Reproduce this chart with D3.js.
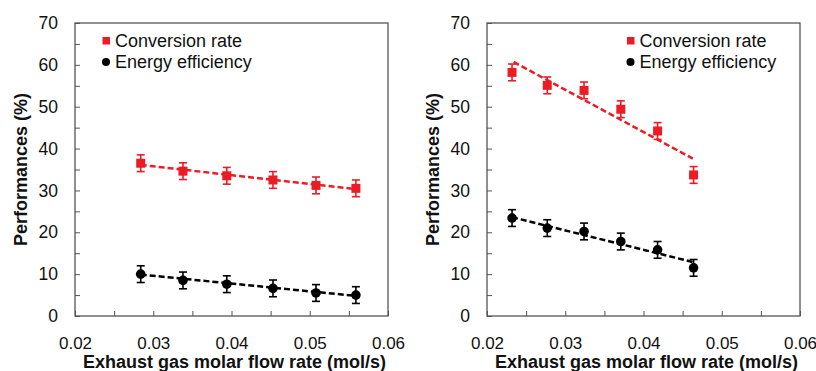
<!DOCTYPE html>
<html><head><meta charset="utf-8">
<script src="https://cdn.jsdelivr.net/npm/d3@7"></script>
<style>body{margin:0;background:#fff}svg{display:block}text{font-family:"Liberation Sans",Arial,sans-serif}</style>
</head><body>
<svg id="c" width="816" height="371"></svg>
<script>
// Data: left panel
const leftX = [0.0284, 0.0338, 0.0394, 0.0453, 0.0508, 0.0559];
const leftConv = [36.5, 34.6, 33.5, 32.5, 31.2, 30.5];
const leftEnergy = [10.0, 8.5, 7.6, 6.6, 5.5, 5.0];
const leftConvErr = [2, 2, 2, 2, 2, 2];
const leftEnergyErr = [2, 2, 2, 2, 2, 2];
const leftConvTrend = [[0.0284, 36.1], [0.0559, 30.3]];
const leftEnergyTrend = [[0.0284, 9.9], [0.0559, 4.8]];
// Data: right panel
const rightX = [0.0232, 0.0277, 0.0324, 0.0371, 0.0418, 0.0464];
const rightConv = [58.2, 55.1, 53.9, 49.4, 44.2, 33.7];
const rightEnergy = [23.4, 21.0, 20.2, 17.8, 15.8, 11.5];
const rightConvErr = [2, 2, 2, 2, 2, 2];
const rightEnergyErr = [2, 2, 2, 2, 2, 2];
const rightConvTrend = [[0.0234, 60.7], [0.0463, 37.6]];
const rightEnergyTrend = [[0.0232, 23.6], [0.0463, 12.9]];
// Axes
const xTickLabels = [0.02, 0.03, 0.04, 0.05, 0.06];
const yTickLabels = [0, 10, 20, 30, 40, 50, 60, 70];
const xLabel = "Exhaust gas molar flow rate (mol/s)";
const yLabel = "Performances (%)";
const seriesNames = ["Conversion rate", "Energy efficiency"];
const RED = "#ec1c24", BLACK = "#000";

const svg = d3.select("#c");

function panel(x0, x1, yTop, yBot, xs, conv, convErr, en, enErr, convTrend, enTrend, legendX) {
  const g = svg.append("g");
  const x = d3.scaleLinear().domain([0.02, 0.06]).range([x0, x1]);
  const y = d3.scaleLinear().domain([0, 70]).range([yBot, yTop]);
  const xt = d3.range(0, 9).map(i => 0.02 + i * 0.005);
  const yt = d3.range(0, 15).map(i => i * 5);
  g.append("g").attr("transform", `translate(0,${yBot})`)
    .call(d3.axisTop(x).tickValues(xt).tickSize(5).tickFormat(""))
    .call(a => { a.select(".domain").remove(); a.selectAll("line").attr("stroke", "#555"); });
  g.append("g").attr("transform", `translate(${x0},0)`)
    .call(d3.axisRight(y).tickValues(yt).tickSize(5).tickFormat(""))
    .call(a => { a.select(".domain").remove(); a.selectAll("line").attr("stroke", "#555"); });
  g.append("g").attr("transform", `translate(0,${yBot})`)
    .call(d3.axisBottom(x).tickValues(xTickLabels).tickSize(0).tickPadding(21).tickFormat(d3.format(".2f")))
    .call(a => { a.select(".domain").remove(); a.selectAll("text").attr("font-size", 17).attr("fill", "#111").attr("font-family", '"Liberation Sans",Arial,sans-serif'); });
  g.append("g").attr("transform", `translate(${x0},0)`)
    .call(d3.axisLeft(y).tickValues(yTickLabels).tickSize(0).tickPadding(17).tickFormat(d3.format("d")))
    .call(a => { a.select(".domain").remove(); a.selectAll("text").attr("font-size", 17.5).attr("fill", "#111").attr("font-family", '"Liberation Sans",Arial,sans-serif'); });
  g.append("rect").attr("x", x0).attr("y", yTop).attr("width", x1 - x0).attr("height", yBot - yTop)
    .attr("fill", "none").attr("stroke", "#555").attr("stroke-width", 1.3);
  g.append("text").attr("x", (x0 + x1) / 2 + 3).attr("y", 368).attr("text-anchor", "middle")
    .attr("font-size", 18).attr("font-weight", "bold").attr("fill", "#111").text(xLabel);
  g.append("text").attr("transform", `translate(${x0 - 48},${(yTop + yBot) / 2}) rotate(-90)`)
    .attr("text-anchor", "middle").attr("font-size", 18).attr("font-weight", "bold").attr("fill", "#111").text(yLabel);
  const line = d3.line().x(d => x(d[0])).y(d => y(d[1]));
  g.append("path").attr("d", line(convTrend)).attr("stroke", RED).attr("stroke-width", 2.5)
    .attr("stroke-dasharray", "6,3").attr("fill", "none");
  g.append("path").attr("d", line(enTrend)).attr("stroke", BLACK).attr("stroke-width", 2.5)
    .attr("stroke-dasharray", "6,3").attr("fill", "none");
  function errs(vals, errsArr, color) {
    const eg = g.append("g").attr("stroke", color).attr("stroke-width", 1.6);
    xs.forEach((xv, i) => {
      const cx = x(xv), top = y(vals[i] + errsArr[i]), bot = y(vals[i] - errsArr[i]);
      eg.append("line").attr("x1", cx).attr("x2", cx).attr("y1", top).attr("y2", bot);
      eg.append("line").attr("x1", cx - 4).attr("x2", cx + 4).attr("y1", top).attr("y2", top);
      eg.append("line").attr("x1", cx - 4).attr("x2", cx + 4).attr("y1", bot).attr("y2", bot);
    });
  }
  errs(conv, convErr, RED);
  errs(en, enErr, BLACK);
  g.selectAll(null).data(xs.map((xv, i) => [xv, conv[i]])).join("rect")
    .attr("x", d => x(d[0]) - 4.5).attr("y", d => y(d[1]) - 4.5).attr("width", 9).attr("height", 9).attr("fill", RED);
  g.selectAll(null).data(xs.map((xv, i) => [xv, en[i]])).join("circle")
    .attr("cx", d => x(d[0])).attr("cy", d => y(d[1])).attr("r", 4.8).attr("fill", BLACK);
  g.append("rect").attr("x", legendX - 3.5).attr("y", 37).attr("width", 7.5).attr("height", 7.5).attr("fill", RED);
  g.append("circle").attr("cx", legendX).attr("cy", 62).attr("r", 4).attr("fill", BLACK);
  g.append("text").attr("x", legendX + 9).attr("y", 47).attr("font-size", 18).attr("fill", "#111").text(seriesNames[0]);
  g.append("text").attr("x", legendX + 9).attr("y", 67.5).attr("font-size", 18).attr("fill", "#111").text(seriesNames[1]);
}

panel(75, 388, 23, 316, leftX, leftConv, leftConvErr, leftEnergy, leftEnergyErr, leftConvTrend, leftEnergyTrend, 106);
panel(487, 800, 23, 316, rightX, rightConv, rightConvErr, rightEnergy, rightEnergyErr, rightConvTrend, rightEnergyTrend, 630.5);
</script>
</body></html>
